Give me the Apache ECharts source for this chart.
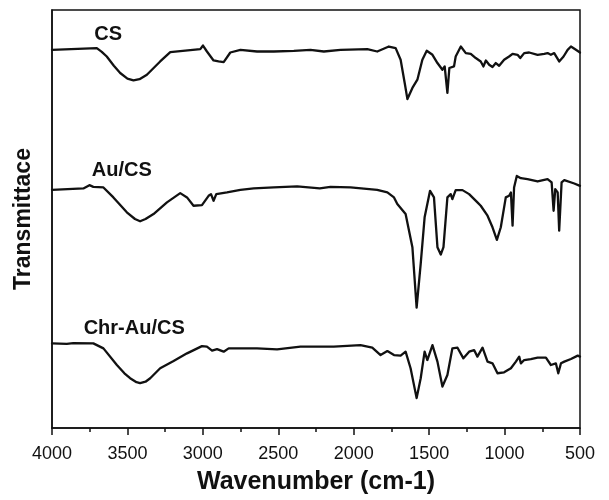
<!DOCTYPE html>
<html>
<head>
<meta charset="utf-8">
<script src="https://cdn.jsdelivr.net/npm/echarts@6/dist/echarts.min.js"></script>
<style>
html,body{margin:0;padding:0;background:#fff;}
#chart{width:609px;height:500px;}
</style>
</head>
<body>
<div id="chart"></div>
<script>
// Tick labels of the wavenumber axis
var xTicks = [4000, 3500, 3000, 2500, 2000, 1500, 1000, 500];

// Series names
var seriesNames = ['CS', 'Au/CS', 'Chr-Au/CS'];

// Wavenumber (cm-1) and transmittance (arbitrary offset units) for each spectrum
var csWave = [4000, 3703, 3670, 3637, 3590, 3548, 3500, 3460, 3420, 3371, 3283, 3216, 3017, 2999, 2973, 2929, 2896, 2862, 2818, 2751, 2641, 2530, 2397, 2287, 2198, 2087, 1910, 1844, 1767, 1722, 1689, 1662, 1644, 1611, 1578, 1545, 1516, 1478, 1445, 1412, 1397, 1379, 1366, 1335, 1324, 1290, 1257, 1224, 1191, 1158, 1140, 1124, 1102, 1080, 1058, 1036, 1003, 970, 947, 914, 896, 870, 837, 781, 737, 715, 693, 671, 638, 609, 582, 560, 527, 500];
var csT    = [380, 381.7, 378, 373.3, 364, 356.7, 351, 349.3, 350.5, 355, 368.3, 377.7, 380.7, 384.3, 378.3, 369.3, 368.3, 367.7, 377.3, 380, 378.3, 378.3, 379, 380, 378.3, 380, 380.7, 378.3, 383.3, 381.7, 370, 346.7, 330.5, 341.7, 350, 370, 379, 375, 366.7, 360, 363.3, 336.7, 361.7, 363.3, 373.3, 383.3, 376.7, 376, 371.7, 368.3, 363.3, 369.3, 365, 362.7, 366.7, 364, 370, 373.3, 376, 375, 371.7, 376.7, 377.3, 375, 376, 376.7, 375, 376.7, 368.3, 373.3, 380, 383.3, 380, 377.3];

var auWave = [4000, 3792, 3752, 3726, 3659, 3593, 3504, 3450, 3416, 3380, 3327, 3238, 3150, 3105, 3062, 3006, 2962, 2946, 2929, 2911, 2840, 2751, 2663, 2530, 2375, 2225, 2154, 2021, 1844, 1777, 1733, 1711, 1656, 1611, 1583, 1556, 1530, 1494, 1468, 1445, 1423, 1405, 1379, 1357, 1346, 1324, 1279, 1235, 1180, 1158, 1113, 1080, 1051, 1025, 992, 970, 958, 947, 937, 919, 892, 848, 781, 715, 688, 675, 664, 648, 638, 622, 604, 538, 500];
var auT    = [239.3, 240.7, 244, 242.3, 241.7, 231.7, 216.7, 210, 207.7, 210, 215, 226.7, 236, 231.7, 223.3, 224, 233.3, 235, 228.3, 235, 236.7, 239.3, 240.7, 241.7, 242.7, 240.7, 242.3, 241.7, 239.3, 236.7, 231.7, 225, 215, 181.7, 121, 165, 211.7, 238.3, 231.7, 181.7, 174.3, 181.7, 231.7, 235, 230, 239, 239, 235, 226.7, 223.3, 213.3, 201.7, 189, 201.7, 231.7, 233.3, 236.7, 203.3, 241.7, 253.3, 251, 250, 247.7, 250, 246.7, 218.3, 240, 236.7, 198.3, 246.7, 249, 245.7, 243.3];

var chrWave = [4000, 3902, 3859, 3726, 3659, 3570, 3520, 3482, 3440, 3416, 3380, 3349, 3283, 3194, 3105, 3006, 2973, 2939, 2906, 2862, 2829, 2641, 2508, 2353, 2225, 2132, 1955, 1877, 1822, 1777, 1733, 1689, 1656, 1623, 1583, 1556, 1530, 1512, 1478, 1445, 1412, 1379, 1346, 1312, 1273, 1235, 1202, 1180, 1146, 1113, 1080, 1047, 1003, 958, 925, 903, 892, 870, 826, 781, 726, 693, 660, 644, 626, 604, 560, 515, 500];
var chrT    = [85, 84.5, 85.2, 85, 80, 63.3, 55, 50, 46, 45, 46.5, 50, 60, 67.3, 75, 82.3, 81.7, 77.7, 79.3, 76.7, 80, 80, 79, 81.7, 81.7, 81.7, 83.3, 80.7, 73.3, 77.3, 73.3, 72.7, 76.7, 60, 30, 50, 76.7, 68.3, 83.3, 66.7, 41.7, 53.3, 80, 80.7, 70, 76.7, 78.3, 71.7, 80.7, 66.7, 65, 55, 56, 60, 66.7, 71.7, 65, 68.3, 69.3, 70.7, 70.7, 63.3, 65, 55, 65, 66.7, 69.3, 72.7, 71.7];

// Where each spectrum's name is written (data units)
var labelWave = [3628, 3537, 3455];
var labelT = [395.5, 259, 100];

function pairs(xs, ys) {
  var out = [];
  for (var i = 0; i < xs.length; i++) out.push([xs[i], ys[i]]);
  return out;
}

var waves = [csWave, auWave, chrWave];
var trans = [csT, auT, chrT];

var series = seriesNames.map(function (name, i) {
  return {
    name: name,
    type: 'line',
    data: pairs(waves[i], trans[i]),
    showSymbol: false,
    symbol: 'none',
    smooth: false,
    lineStyle: { color: '#111', width: 2.3, join: 'round', cap: 'round' },
    itemStyle: { color: '#111' },
    animation: false,
    markPoint: {
      symbol: 'circle',
      symbolSize: 0,
      silent: true,
      data: [{
        coord: [labelWave[i], labelT[i]],
        label: {
          show: true,
          formatter: name,
          position: 'inside',
          color: '#111',
          fontFamily: 'Liberation Sans, Arial, sans-serif',
          fontWeight: 'bold',
          fontSize: 20
        }
      }]
    }
  };
});

var chart = echarts.init(document.getElementById('chart'), null, { renderer: 'canvas' });
chart.setOption({
  backgroundColor: '#fff',
  animation: false,
  grid: {
    left: 52, right: 29, top: 10, bottom: 70,
    show: true, borderColor: '#111', borderWidth: 1.5, backgroundColor: 'transparent'
  },
  xAxis: {
    type: 'value',
    inverse: true,
    min: 500,
    max: 4000,
    interval: 500,
    name: 'Wavenumber (cm-1)',
    nameLocation: 'middle',
    nameGap: 42,
    nameTextStyle: { color: '#111', fontFamily: 'Liberation Sans, Arial, sans-serif', fontWeight: 'bold', fontSize: 25 },
    axisLine: { show: true, lineStyle: { color: '#111', width: 1.5 } },
    axisTick: { show: true, inside: false, length: 7, lineStyle: { color: '#111', width: 1.5 } },
    minorTick: { show: true, splitNumber: 2, length: 4, lineStyle: { color: '#111', width: 1.5 } },
    axisLabel: {
      color: '#111', fontFamily: 'Liberation Sans, Arial, sans-serif', fontSize: 18, margin: 17,
      formatter: function (v) { return xTicks.indexOf(v) >= 0 ? String(v) : ''; }
    },
    splitLine: { show: false }
  },
  yAxis: {
    type: 'value',
    min: 0,
    max: 420,
    name: 'Transmittace',
    nameLocation: 'middle',
    nameGap: 17,
    nameRotate: 90,
    nameTextStyle: { color: '#111', fontFamily: 'Liberation Sans, Arial, sans-serif', fontWeight: 'bold', fontSize: 23 },
    axisLine: { show: true, lineStyle: { color: '#111', width: 1.5 } },
    axisTick: { show: false },
    axisLabel: { show: false },
    splitLine: { show: false }
  },
  series: series
});
</script>
</body>
</html>
